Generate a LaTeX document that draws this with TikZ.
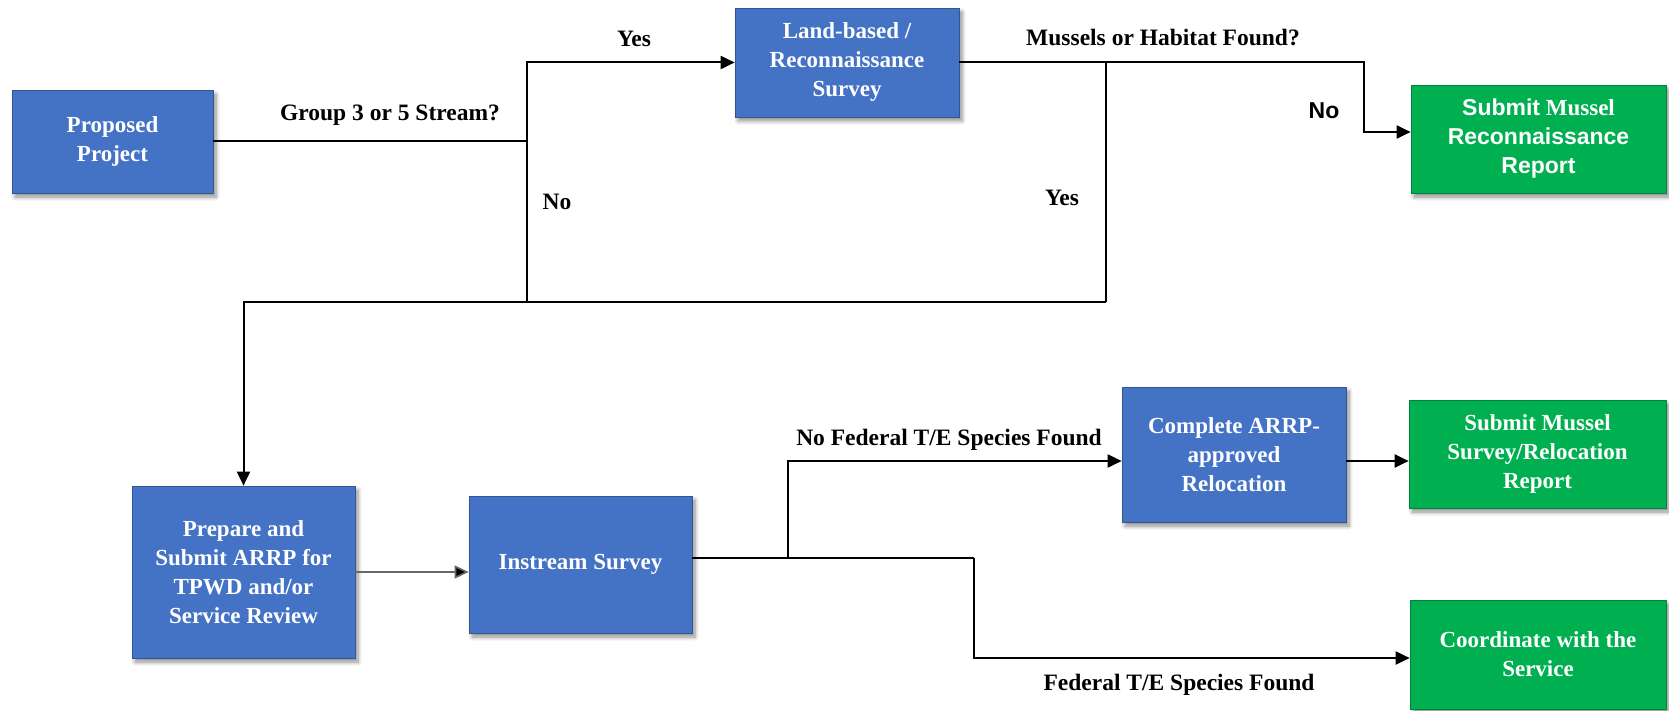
\documentclass[tikz,border=0pt]{standalone}
\usepackage{fontspec}
\setmainfont{Liberation Serif}
\newfontfamily\arialfont{Liberation Sans}
\usetikzlibrary{arrows.meta,shadows,shadows.blur}
\definecolor{boxblue}{HTML}{4472C4}
\definecolor{boxgreen}{HTML}{00B050}
\tikzset{
  flowbox/.style={fill=#1, draw=#1!75!black, line width=0.7pt, inner sep=0pt, align=center,
    text=white, font=\fontsize{23}{29}\selectfont\bfseries,
    blur shadow={shadow xshift=3pt, shadow yshift=-4pt, shadow blur steps=6, shadow blur radius=4pt, shadow opacity=45}},
  conn/.style={line width=2pt, draw=black},
  arr/.style={conn, -{Triangle[length=14pt,width=13pt]}},
  thinarr/.style={line width=1.6pt, draw=black!60, -{Triangle[length=14pt,width=13pt,fill=black]}},
  lbl/.style={inner sep=0pt, font=\fontsize{23.5}{26}\selectfont\bfseries},
}
\begin{document}
\begin{tikzpicture}[x=1pt,y=-1pt]
\useasboundingbox (0,0) rectangle (1669,711);
% boxes
\node[flowbox=boxblue, minimum width=201pt, minimum height=103pt] (pp) at (112.5,141.5) {Proposed\\Project};
\node[flowbox=boxblue, minimum width=224pt, minimum height=109pt] (land) at (847,62.5) {Land-based /\\Reconnaissance\\Survey};
\node[flowbox=boxgreen, minimum width=255pt, minimum height=108pt] (rep1) at (1538.5,139) {{\arialfont Submit} Mussel\\{\arialfont Reconnaissance}\\{\arialfont Report}};
\node[flowbox=boxblue, minimum width=223pt, minimum height=172pt] (prep) at (243.5,572) {Prepare and\\Submit ARRP for\\TPWD and/or\\Service Review};
\node[flowbox=boxblue, minimum width=223pt, minimum height=137pt] (inst) at (580.5,564.5) {Instream Survey};
\node[flowbox=boxblue, minimum width=224pt, minimum height=135pt] (comp) at (1234,454.5) {Complete ARRP-\\approved\\Relocation};
\node[flowbox=boxgreen, minimum width=257pt, minimum height=108pt] (rep2) at (1537.5,454) {Submit Mussel\\Survey/Relocation\\Report};
\node[flowbox=boxgreen, minimum width=256pt, minimum height=109pt] (coord) at (1538,654.5) {Coordinate with the\\Service};
% junction coordinates
\coordinate (a1) at (527,302);
\coordinate (b1) at (1106,302);
\coordinate (c1) at (1364,63);
\coordinate (e1) at (788,558);
\coordinate (r1) at (788,461);
\coordinate (e2) at (974,558);
\coordinate (f1) at (974,658);
% connectors
\draw[conn] (pp.east) -- (pp.east -| a1);
\draw[arr] (a1) |- (land.west);
\draw[arr] (land.east) -- (land.east -| c1) |- ([yshift=7pt]rep1.west);
\draw[conn] (b1) -- (b1 |- land.east);
\draw[arr] (b1) -| (prep.north);
\draw[thinarr] (prep.east) -- (prep.east -| inst.west);
\draw[conn] (inst.east |- e1) -- (e2);
\draw[arr] (e1) -- (r1) -- (r1 -| comp.west);
\draw[arr] (comp.east |- r1) -- (rep2.west |- r1);
\draw[arr] (e2) -- (f1) -- (f1 -| coord.west);
% labels
\node[lbl] (l1) at (390,115) {Group 3 or 5 Stream?};
\node[lbl] (l2) at (634,39) {Yes};
\node[lbl] (l3) at (557,202) {No};
\node[lbl] (l4) at (1163,38) {Mussels or Habitat Found?};
\node[lbl] (l5) at (1062,198) {Yes};
\node[lbl, font=\fontsize{23}{26}\selectfont\bfseries\arialfont] (l6) at (1324,111) {No};
\node[lbl] (l7) at (949,440) {No Federal T/E Species Found};
\node[lbl] (l8) at (1179,685) {Federal T/E Species Found};
\end{tikzpicture}
\end{document}
